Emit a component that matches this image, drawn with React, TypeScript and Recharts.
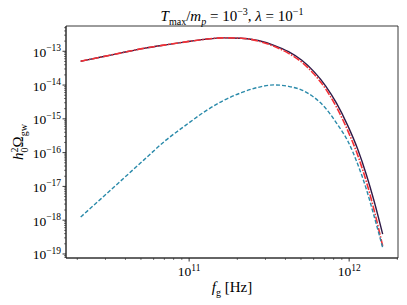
import { LineChart, Line, XAxis, YAxis, ReferenceArea } from "recharts"

// frequencies in Hz
const freq = [
  2.1e10, 2.82e10, 3.77e10, 5.2e10, 7.13e10, 9.54e10, 1.245e11, 1.63e11, 2.12e11, 2.7e11, 3.39e11,
  4.18e11, 5.06e11, 6.05e11, 7.14e11, 8.32e11, 9.82e11, 1.13e12, 1.28e12, 1.43e12, 1.62e12,
]
// solid navy curve
const omegaFull = [
  5.08e-14, 6.75e-14, 8.97e-14, 1.22e-13, 1.55e-13, 1.9e-13, 2.25e-13, 2.49e-13, 2.44e-13, 2.08e-13,
  1.5e-13, 9.7e-14, 5.4e-14, 2.46e-14, 9.35e-15, 2.96e-15, 6.2e-16, 1.28e-16, 2.25e-17, 3.75e-18, 3.87e-19,
]
// red dash-dot curve
const omegaApprox = [
  5.08e-14, 6.75e-14, 8.97e-14, 1.22e-13, 1.55e-13, 1.9e-13, 2.25e-13, 2.49e-13, 2.44e-13, 2.01e-13,
  1.4e-13, 8.7e-14, 4.75e-14, 2.08e-14, 7.6e-15, 2.25e-15, 4.4e-16, 8.5e-17, 1.4e-17, 2.04e-18, 1.72e-19,
]
// teal dashed curve
const omegaLow = [
  1.24e-18, 4.35e-18, 1.51e-17, 6.0e-17, 2.3e-16, 6.5e-16, 1.61e-15, 3.43e-15, 5.94e-15, 8.55e-15,
  1.01e-14, 9.15e-15, 7.13e-15, 4.29e-15, 2.04e-15, 7.6e-16, 2.18e-16, 4.6e-17, 8.4e-18, 1.35e-18, 1.55e-19,
]

const xDecades = [10, 11, 12]
const yDecades = [-20, -19, -18, -17, -16, -15, -14, -13]
const mantissas = [1, 2, 3, 4, 5, 6, 7, 8, 9]

const X_DOMAIN: [number, number] = [1.7e10, 2.02e12]
const Y_DOMAIN: [number, number] = [7.6e-20, 5.6e-13]

function logTicks(decades: number[], lo: number, hi: number) {
  const out: number[] = []
  for (const d of decades) {
    for (const m of mantissas) {
      const v = m * Math.pow(10, d)
      if (v >= lo && v <= hi) out.push(v)
    }
  }
  return out
}

const xTicks = logTicks(xDecades, X_DOMAIN[0], X_DOMAIN[1])
const yTicks = logTicks(yDecades, Y_DOMAIN[0], Y_DOMAIN[1])

const data = freq.map((f, i) => ({
  f,
  full: omegaFull[i],
  approx: omegaApprox[i],
  low: omegaLow[i],
}))

const FONT = "'Liberation Serif', 'DejaVu Serif', serif"
const AXIS = "#222"

function isMajor(v: number) {
  const l = Math.log10(v)
  return Math.abs(l - Math.round(l)) < 1e-6
}

function XTick(props: any) {
  const { x, y, payload } = props
  const v = payload.value
  const major = isMajor(v)
  return (
    <g>
      <line x1={x} x2={x} y1={y} y2={y + (major ? 3.5 : 2)} stroke={AXIS} strokeWidth={major ? 0.9 : 0.6} />
      {major && (
        <text x={x} y={y + 18} textAnchor="middle" fontFamily={FONT} fontSize={13.5} fill="#000">
          <tspan>10</tspan>
          <tspan dy={-5.5} fontSize={9.5}>{Math.round(Math.log10(v))}</tspan>
        </text>
      )}
    </g>
  )
}

function YTick(props: any) {
  const { x, y, payload } = props
  const v = payload.value
  const major = isMajor(v)
  return (
    <g>
      <line x1={x} x2={x - (major ? 3.5 : 2)} y1={y} y2={y} stroke={AXIS} strokeWidth={major ? 0.9 : 0.6} />
      {major && (
        <text x={x - 5} y={y + 5.5} textAnchor="end" fontFamily={FONT} fontSize={13.5} fill="#000">
          <tspan>10</tspan>
          <tspan dy={-5.5} fontSize={9.5}>{"\u2212" + Math.abs(Math.round(Math.log10(v)))}</tspan>
        </text>
      )}
    </g>
  )
}

export default function App() {
  return (
    <div style={{ position: "fixed", left: 0, top: 0, width: 407, height: 305, background: "#fff" }}>
      <LineChart width={407} height={305} data={data} margin={{ top: 26, right: 9, bottom: 17, left: 0 }}>
        <XAxis
          dataKey="f"
          type="number"
          scale="log"
          domain={X_DOMAIN}
          allowDataOverflow
          ticks={xTicks}
          interval={0}
          tick={<XTick />}
          tickSize={0}
          tickMargin={0}
          tickLine={false}
          axisLine={{ stroke: AXIS, strokeWidth: 0.9 }}
          height={30}
        />
        <YAxis
          type="number"
          scale="log"
          domain={Y_DOMAIN}
          allowDataOverflow
          ticks={yTicks}
          interval={0}
          tick={<YTick />}
          tickSize={0}
          tickMargin={0}
          tickLine={false}
          axisLine={{ stroke: AXIS, strokeWidth: 0.9 }}
          width={66}
        />
        <ReferenceArea
          x1={X_DOMAIN[0]}
          x2={X_DOMAIN[1]}
          y1={Y_DOMAIN[0]}
          y2={Y_DOMAIN[1]}
          fill="none"
          stroke={AXIS}
          strokeWidth={0.9}
          ifOverflow="visible"
        />
        <Line
          type="monotone"
          dataKey="full"
          stroke="#2e1a47"
          strokeWidth={1.4}
          dot={false}
          isAnimationActive={false}
        />
        <Line
          type="monotone"
          dataKey="approx"
          stroke="#f53035"
          strokeWidth={1.6}
          strokeDasharray="7 1.5 1.5 1.5"
          dot={false}
          isAnimationActive={false}
        />
        <Line
          type="monotone"
          dataKey="low"
          stroke="#2a8aaa"
          strokeWidth={1.4}
          strokeDasharray="4 2"
          dot={false}
          isAnimationActive={false}
        />
      </LineChart>
      <div
        style={{
          position: "absolute",
          left: 66,
          width: 332,
          top: 3,
          textAlign: "center",
          fontFamily: FONT,
          fontSize: 15,
          lineHeight: "17px",
        }}
      >
        <i>T</i>
        <sub style={{ fontSize: 10 }}>max</sub>/<i>m</i>
        <sub style={{ fontSize: 10, fontStyle: "italic" }}>p</sub> = 10
        <sup style={{ fontSize: 10 }}>−3</sup>, <i>λ</i> = 10<sup style={{ fontSize: 10 }}>−1</sup>
      </div>
      <div
        style={{
          position: "absolute",
          left: 66,
          width: 332,
          top: 279,
          textAlign: "center",
          fontFamily: FONT,
          fontSize: 15,
          lineHeight: "17px",
        }}
      >
        <i>f</i>
        <sub style={{ fontSize: 10 }}>g</sub> [Hz]
      </div>
      <div
        style={{
          position: "absolute",
          left: 21,
          top: 142,
          transform: "translate(-50%, -50%) rotate(-90deg)",
          whiteSpace: "nowrap",
          fontFamily: FONT,
          fontSize: 15,
          lineHeight: "17px",
        }}
      >
        <i>h</i>
        <span style={{ display: "inline-flex", flexDirection: "column", fontSize: 10, lineHeight: "10px", verticalAlign: "middle" }}>
          <span>2</span>
          <span>0</span>
        </span>
        Ω<sub style={{ fontSize: 10 }}>gw</sub>
      </div>
    </div>
  )
}
